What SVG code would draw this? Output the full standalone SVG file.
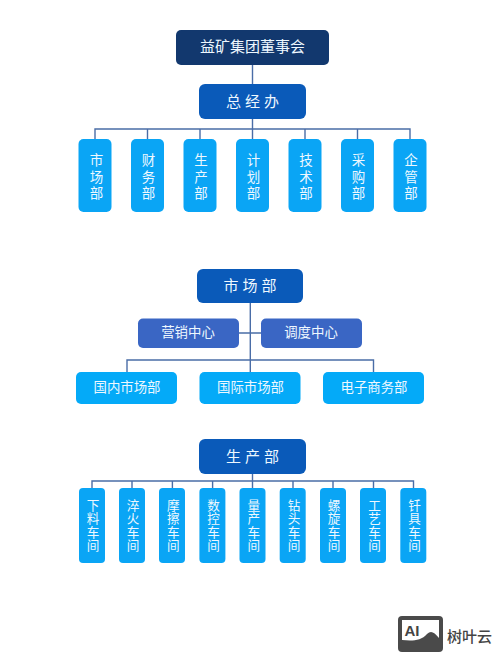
<svg xmlns="http://www.w3.org/2000/svg" width="500" height="663" viewBox="0 0 500 663">
<style>
text{font-family:"Liberation Sans","Noto Sans CJK SC",sans-serif;fill:#eef8ff;text-anchor:middle;dominant-baseline:central}
.t{font-size:15px}.v{font-size:13.5px}.w{font-size:12.6px}.h{font-size:13.4px}
.c{fill:none;stroke:#4a6da7;stroke-width:1.4}
.d{fill:#0aa5f5}.n{fill:#0a5ab9}.m{fill:#3a66c4}.l{fill:#04aaf8}
</style>
<rect width="500" height="663" fill="#fff"/>
<g id="connectors" class="c">
<path d="M252.5 65V84M252.5 119V139M95 139V129H410V139M147.5 129V139M200 129V139M305 129V139M357.5 129V139"/>
<path d="M250.3 303V372M239 333H261M127 372V360H373.5V372"/>
<path d="M252.5 474V488M92 488V481H413.5V488M132 481V488M172.4 481V488M212.6 481V488M293 481V488M333 481V488M373.5 481V488"/>
</g>
<g id="board"><rect x="176" y="30" width="153" height="35" rx="5" fill="#12386e"/><text class="t" x="252.5" y="46.7">益矿集团董事会</text></g>
<g id="gm"><rect x="199" y="84" width="107" height="35" rx="6" class="n"/><text class="t" x="254.5" y="101.5" letter-spacing="4">总经办</text></g>
<g id="d1"><rect x="78.5" y="139" width="33" height="73" rx="5" class="d"/><text class="v"><tspan x="96.5" y="160">市</tspan><tspan x="96.5" y="176.5">场</tspan><tspan x="96.5" y="193">部</tspan></text></g>
<g id="d2"><rect x="131" y="139" width="33" height="73" rx="5" class="d"/><text class="v"><tspan x="148.5" y="160">财</tspan><tspan x="148.5" y="176.5">务</tspan><tspan x="148.5" y="193">部</tspan></text></g>
<g id="d3"><rect x="183.5" y="139" width="33" height="73" rx="5" class="d"/><text class="v"><tspan x="201" y="160">生</tspan><tspan x="201" y="176.5">产</tspan><tspan x="201" y="193">部</tspan></text></g>
<g id="d4"><rect x="236" y="139" width="33" height="73" rx="5" class="d"/><text class="v"><tspan x="253.5" y="160">计</tspan><tspan x="253.5" y="176.5">划</tspan><tspan x="253.5" y="193">部</tspan></text></g>
<g id="d5"><rect x="288.5" y="139" width="33" height="73" rx="5" class="d"/><text class="v"><tspan x="306" y="160">技</tspan><tspan x="306" y="176.5">术</tspan><tspan x="306" y="193">部</tspan></text></g>
<g id="d6"><rect x="341" y="139" width="33" height="73" rx="5" class="d"/><text class="v"><tspan x="358.5" y="160">采</tspan><tspan x="358.5" y="176.5">购</tspan><tspan x="358.5" y="193">部</tspan></text></g>
<g id="d7"><rect x="393.5" y="139" width="33" height="73" rx="5" class="d"/><text class="v"><tspan x="411" y="160">企</tspan><tspan x="411" y="176.5">管</tspan><tspan x="411" y="193">部</tspan></text></g>
<g id="market"><rect x="197" y="269" width="106" height="34" rx="6" class="n"/><text class="t" x="252" y="285.5" letter-spacing="4">市场部</text></g>
<g id="m1"><rect x="138" y="318.5" width="101" height="29.5" rx="5" class="m"/><text class="h" x="188" y="332.5">营销中心</text></g>
<g id="m2"><rect x="261" y="318.5" width="101" height="29.5" rx="5" class="m"/><text class="h" x="311" y="332.5">调度中心</text></g>
<g id="m3"><rect x="76" y="372" width="101" height="32" rx="5" class="l"/><text class="h" x="127" y="387">国内市场部</text></g>
<g id="m4"><rect x="199.5" y="372" width="101" height="32" rx="5" class="l"/><text class="h" x="250.5" y="387">国际市场部</text></g>
<g id="m5"><rect x="323" y="372" width="101" height="32" rx="5" class="l"/><text class="h" x="374" y="387">电子商务部</text></g>
<g id="prod"><rect x="199" y="439" width="107" height="35" rx="6" class="n"/><text class="t" x="254.5" y="456" letter-spacing="4">生产部</text></g>
<g id="w1"><rect x="79" y="488" width="26" height="75" rx="4" class="d"/><text class="w"><tspan x="93" y="506">下</tspan><tspan x="93" y="519.3">料</tspan><tspan x="93" y="532.6">车</tspan><tspan x="93" y="546">间</tspan></text></g>
<g id="w2"><rect x="119" y="488" width="26" height="75" rx="4" class="d"/><text class="w"><tspan x="133" y="506">淬</tspan><tspan x="133" y="519.3">火</tspan><tspan x="133" y="532.6">车</tspan><tspan x="133" y="546">间</tspan></text></g>
<g id="w3"><rect x="159" y="488" width="26" height="75" rx="4" class="d"/><text class="w"><tspan x="173.4" y="506">摩</tspan><tspan x="173.4" y="519.3">擦</tspan><tspan x="173.4" y="532.6">车</tspan><tspan x="173.4" y="546">间</tspan></text></g>
<g id="w4"><rect x="199.4" y="488" width="26" height="75" rx="4" class="d"/><text class="w"><tspan x="213.6" y="506">数</tspan><tspan x="213.6" y="519.3">控</tspan><tspan x="213.6" y="532.6">车</tspan><tspan x="213.6" y="546">间</tspan></text></g>
<g id="w5"><rect x="239.5" y="488" width="26" height="75" rx="4" class="d"/><text class="w"><tspan x="253.8" y="506">量</tspan><tspan x="253.8" y="519.3">产</tspan><tspan x="253.8" y="532.6">车</tspan><tspan x="253.8" y="546">间</tspan></text></g>
<g id="w6"><rect x="279.7" y="488" width="26" height="75" rx="4" class="d"/><text class="w"><tspan x="294" y="506">钻</tspan><tspan x="294" y="519.3">头</tspan><tspan x="294" y="532.6">车</tspan><tspan x="294" y="546">间</tspan></text></g>
<g id="w7"><rect x="320" y="488" width="26" height="75" rx="4" class="d"/><text class="w"><tspan x="334" y="506">螺</tspan><tspan x="334" y="519.3">旋</tspan><tspan x="334" y="532.6">车</tspan><tspan x="334" y="546">间</tspan></text></g>
<g id="w8"><rect x="360" y="488" width="26" height="75" rx="4" class="d"/><text class="w"><tspan x="374.5" y="506">工</tspan><tspan x="374.5" y="519.3">艺</tspan><tspan x="374.5" y="532.6">车</tspan><tspan x="374.5" y="546">间</tspan></text></g>
<g id="w9"><rect x="400.3" y="488" width="26" height="75" rx="4" class="d"/><text class="w"><tspan x="414.6" y="506">钎</tspan><tspan x="414.6" y="519.3">具</tspan><tspan x="414.6" y="532.6">车</tspan><tspan x="414.6" y="546">间</tspan></text></g>
<g id="watermark">
<rect x="398" y="616" width="45" height="36" rx="4" fill="#4a4a4a"/>
<path d="M402 620H439V638C434 632 431 630 427 634C421 641 412 641 402 640Z" fill="#fff"/>
<text x="412" y="630" style="font-size:15px;font-weight:bold;fill:#444">AI</text>
<text x="469.5" y="636" style="font-size:15px;fill:#444;font-weight:500">树叶云</text>
</g>
</svg>
